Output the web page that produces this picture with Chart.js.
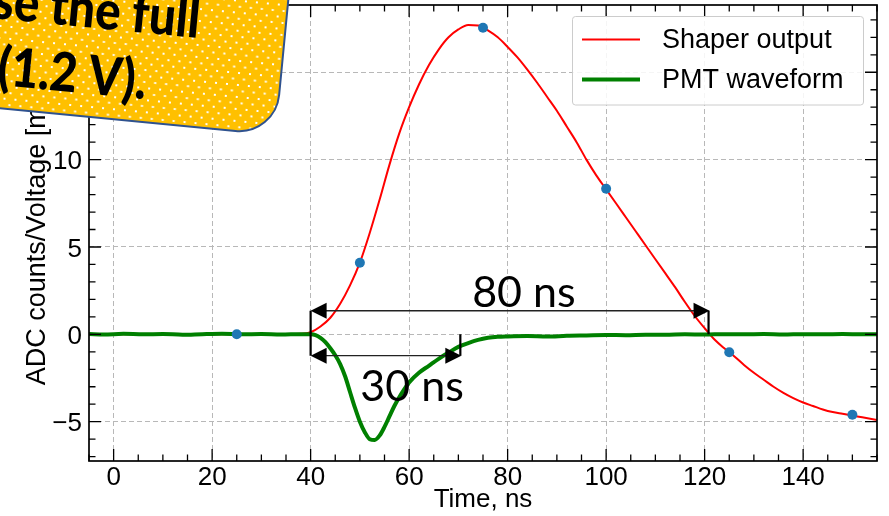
<!DOCTYPE html>
<html>
<head>
<meta charset="utf-8">
<script src="https://cdn.jsdelivr.net/npm/chart.js@4.4.1/dist/chart.umd.min.js"></script>
<style>
  html, body { margin: 0; padding: 0; background: #fff; }
  #wrap { width: 889px; height: 516px; }
</style>
</head>
<body>
<div id="wrap"><canvas id="pulseChart" width="889" height="516"></canvas></div>
<script>
// Shaper output (red)
const shaperTime = [-5, 0, 10, 20, 30, 35, 38, 40, 42, 44, 46, 48, 50, 52, 54, 56, 58, 60, 62, 64, 66, 68, 70, 72, 74, 76, 78, 80, 82, 84, 86, 88, 90, 92, 94, 96, 98, 100, 102, 104, 106, 108, 110, 112, 114, 116, 118, 120, 122, 124, 126, 128, 130, 132, 134, 136, 138, 140, 142, 144, 146, 148, 150, 152, 155];
const shaperValues = [0, 0, 0, 0, 0, 0.01, 0.03, 0.12, 0.45, 0.95, 1.75, 2.8, 4.1, 5.8, 7.7, 9.7, 11.5, 13.0, 14.3, 15.4, 16.3, 17.0, 17.45, 17.7, 17.68, 17.4, 17.0, 16.45, 15.85, 15.15, 14.4, 13.6, 12.8, 11.9, 11.0, 10.0, 9.1, 8.3, 7.5, 6.7, 5.9, 5.1, 4.3, 3.5, 2.7, 1.85, 1.05, 0.35, -0.3, -0.8, -1.25, -1.75, -2.2, -2.6, -3.0, -3.35, -3.65, -3.9, -4.1, -4.3, -4.45, -4.55, -4.65, -4.75, -4.9];

// PMT waveform (green)
const pmtTime = [-5, -2, 2, 6, 10, 14, 18, 22, 26, 30, 34, 38, 40, 41, 42, 43, 44, 45, 46, 47, 48, 49, 50, 51, 52, 53, 54, 55, 56, 57, 58, 59, 60, 62, 64, 66, 68, 70, 72, 74, 76, 78, 80, 84, 88, 92, 96, 100, 104, 108, 112, 116, 120, 124, 128, 132, 136, 140, 144, 148, 152, 155];
const pmtValues = [0.02, -0.01, 0.03, 0, 0.02, -0.02, 0.01, 0.03, 0, 0.02, -0.01, 0.01, 0, -0.05, -0.2, -0.45, -0.8, -1.2, -1.7, -2.4, -3.3, -4.2, -5.0, -5.6, -6.0, -6.05, -5.8, -5.3, -4.7, -4.1, -3.6, -3.15, -2.75, -2.2, -1.8, -1.4, -1.05, -0.72, -0.5, -0.32, -0.2, -0.14, -0.12, -0.1, -0.13, -0.08, -0.06, -0.04, -0.05, -0.02, -0.03, 0, -0.01, 0.01, 0, 0.02, -0.01, 0.01, 0, 0.02, 0, 0.01];

// ADC samples (blue dots)
const sampleTime = [25, 50, 75, 100, 125, 150];
const sampleValues = [0, 4.1, 17.55, 8.33, -1.03, -4.6];

// axis ticks
const xTicks = [0, 20, 40, 60, 80, 100, 120, 140];
const yTicks = [-5, 0, 5, 10, 15];

const legendLabels = ['Shaper output', 'PMT waveform'];

// width annotations (data coordinates)
const spans = [
    { text: '80 ns', from: 40, to: 121, at: 1.35, textX: 83.3, textY: 1.58 },
    { text: '30 ns', from: 40, to: 70.6, at: -1.22, textX: 60.6, textY: -3.82 }
];

const toPoints = (xs, ys) => xs.map((x, i) => ({ x: x, y: ys[i] }));
const fontMain = '"Liberation Sans", Arial, sans-serif';

// frame, inward ticks, arrows, legend
const decorPlugin = {
    id: 'decor',
    afterDatasetsDraw(chart) {
        const { ctx, chartArea: a, scales: { x, y } } = chart;
        ctx.save();
        ctx.strokeStyle = '#000';
        ctx.lineWidth = 1.3;
        ctx.beginPath();
        for (let v = -5; v <= 155; v += 5) {
            const px = x.getPixelForValue(v);
            const len = v % 20 === 0 ? 12 : 6.5;
            ctx.moveTo(px, a.bottom); ctx.lineTo(px, a.bottom - len);
            ctx.moveTo(px, a.top); ctx.lineTo(px, a.top + len);
        }
        for (let v = -7; v <= 18; v += 1) {
            const py = y.getPixelForValue(v);
            const len = v % 5 === 0 ? 12 : 6.5;
            ctx.moveTo(a.left, py); ctx.lineTo(a.left + len, py);
            ctx.moveTo(a.right, py); ctx.lineTo(a.right - len, py);
        }
        ctx.stroke();
        ctx.lineWidth = 1.7;
        ctx.strokeRect(a.left, a.top, a.right - a.left, a.bottom - a.top);

        // arrows
        spans.forEach(s => {
            const x0 = x.getPixelForValue(s.from);
            const x1 = x.getPixelForValue(s.to);
            const py = y.getPixelForValue(s.at);
            const p0 = y.getPixelForValue(0);
            ctx.strokeStyle = '#222';
            ctx.lineWidth = 1.3;
            ctx.beginPath();
            ctx.moveTo(x0 + 10, py); ctx.lineTo(x1 - 10, py);
            ctx.stroke();
            ctx.strokeStyle = '#000';
            ctx.lineWidth = 2.2;
            ctx.beginPath();
            ctx.moveTo(x0, py); ctx.lineTo(x0, p0);
            ctx.moveTo(x1 - 1, py); ctx.lineTo(x1 - 1, p0);
            ctx.stroke();
            ctx.fillStyle = '#000';
            ctx.beginPath();
            ctx.moveTo(x0, py); ctx.lineTo(x0 + 16, py - 8); ctx.lineTo(x0 + 16, py + 8); ctx.closePath();
            ctx.moveTo(x1, py); ctx.lineTo(x1 - 16, py - 8); ctx.lineTo(x1 - 16, py + 8); ctx.closePath();
            ctx.fill();
            ctx.font = '43px Lato, "Open Sans", sans-serif';
            ctx.textAlign = 'center';
            ctx.textBaseline = 'alphabetic';
            ctx.fillText(s.text, x.getPixelForValue(s.textX), y.getPixelForValue(s.textY));
        });

        // legend
        ctx.fillStyle = 'rgba(255,255,255,0.85)';
        ctx.strokeStyle = '#cccccc';
        ctx.lineWidth = 1;
        ctx.beginPath();
        ctx.roundRect(572.5, 16.5, 291, 88.5, 3);
        ctx.fill();
        ctx.stroke();
        const colors = ['#ff0000', '#008000'];
        const widths = [2, 4];
        legendLabels.forEach((label, i) => {
            const ly = 39.5 + i * 40;
            ctx.strokeStyle = colors[i];
            ctx.lineWidth = widths[i];
            ctx.beginPath();
            ctx.moveTo(582, ly); ctx.lineTo(640, ly);
            ctx.stroke();
            ctx.fillStyle = '#000';
            ctx.font = '27px ' + fontMain;
            ctx.textAlign = 'left';
            ctx.textBaseline = 'middle';
            ctx.fillText(label, 662, ly + 1);
        });
        ctx.restore();
    },
    afterDraw(chart) {
        // slide callout overlapping the plot corner
        const ctx = chart.ctx;
        const tile = document.createElement('canvas');
        tile.width = 11; tile.height = 12;
        const tctx = tile.getContext('2d');
        tctx.fillStyle = '#ffc000';
        tctx.fillRect(0, 0, 11, 12);
        tctx.fillStyle = '#ffffff';
        tctx.fillRect(1, 1, 2, 2);
        tctx.fillRect(6.5, 7, 2, 2);
        ctx.save();
        ctx.translate(275.3, 134.8);
        ctx.rotate(5.5 * Math.PI / 180);
        ctx.beginPath();
        ctx.roundRect(-520, -320, 520, 320, 40);
        ctx.fillStyle = ctx.createPattern(tile, 'repeat');
        ctx.fill();
        ctx.strokeStyle = '#2f528f';
        ctx.lineWidth = 2;
        ctx.stroke();
        ctx.fillStyle = '#000';
        ctx.font = '900 54px Lato, "Open Sans", sans-serif';
        ctx.textAlign = 'right';
        ctx.textBaseline = 'alphabetic';
        ctx.scale(0.88, 1);
        ctx.fillText('se the full', -86 / 0.88, -89);
        ctx.fillText('(1.2 V).', -133 / 0.88, -23);
        ctx.restore();
    }
};

new Chart(document.getElementById('pulseChart'), {
    type: 'line',
    data: {
        datasets: [
            {
                label: 'ADC samples',
                type: 'scatter',
                data: toPoints(sampleTime, sampleValues),
                backgroundColor: '#1f77b4',
                borderWidth: 0,
                pointRadius: 5,
                order: 0
            },
            {
                label: legendLabels[1],
                data: toPoints(pmtTime, pmtValues),
                borderColor: '#008000',
                borderWidth: 4,
                pointRadius: 0,
                cubicInterpolationMode: 'monotone',
                order: 1
            },
            {
                label: legendLabels[0],
                data: toPoints(shaperTime, shaperValues),
                borderColor: '#ff0000',
                borderWidth: 2,
                pointRadius: 0,
                cubicInterpolationMode: 'monotone',
                order: 2
            }
        ]
    },
    options: {
        responsive: false,
        animation: false,
        devicePixelRatio: 1,
        layout: { padding: { top: 3, right: 12, left: 0, bottom: 0 } },
        plugins: { legend: { display: false }, tooltip: { enabled: false } },
        scales: {
            x: {
                type: 'linear',
                min: -5,
                max: 155,
                afterBuildTicks: s => { s.ticks = xTicks.map(v => ({ value: v })); },
                afterFit: s => { s.height = 55; s.paddingLeft = 0; s.paddingRight = 0; },
                grid: { color: '#b8b8b8', lineWidth: 1, drawTicks: false },
                border: { display: false, dash: [5, 3] },
                ticks: { color: '#000', padding: 1, maxRotation: 0, font: { family: fontMain, size: 26 } },
                title: { display: true, text: 'Time, ns', color: '#000', padding: { top: 0, bottom: 1 }, font: { family: fontMain, size: 26 } }
            },
            y: {
                type: 'linear',
                min: -7.25,
                max: 18.85,
                afterBuildTicks: s => { s.ticks = yTicks.map(v => ({ value: v })); },
                afterFit: s => { s.width = 89; s.paddingTop = 0; s.paddingBottom = 0; },
                grid: { color: '#b8b8b8', lineWidth: 1, drawTicks: false },
                border: { display: false, dash: [5, 3] },
                ticks: {
                    color: '#000',
                    padding: 7,
                    labelOffset: 2.5,
                    font: { family: fontMain, size: 26 },
                    callback: v => String(v).replace('-', '\u2212')
                },
                title: { display: true, text: 'ADC counts/Voltage [mV]', color: '#000', padding: { top: 21, bottom: 0 }, font: { family: fontMain, size: 27 } }
            }
        }
    },
    plugins: [decorPlugin]
});
</script>
</body>
</html>
